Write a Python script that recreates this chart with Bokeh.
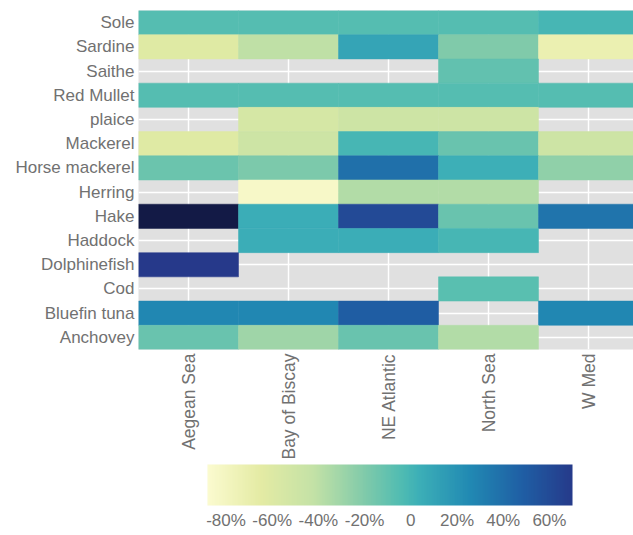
import math
import numpy as np
from bokeh.plotting import figure
from bokeh.models import (ColumnDataSource, LinearColorMapper, ColorBar, FixedTicker,
                          Range1d)
from bokeh.transform import transform
from bokeh.embed import file_html
from bokeh.resources import INLINE

# ---------------- data ----------------
regions = ["Aegean Sea", "Bay of Biscay", "NE Atlantic", "North Sea", "W Med"]
species = ["Sole", "Sardine", "Saithe", "Red Mullet", "plaice", "Mackerel",
           "Horse mackerel", "Herring", "Hake", "Haddock", "Dolphinefish", "Cod",
           "Bluefin tuna", "Anchovey"]  # top to bottom

sole = [-0.06, -0.06, -0.06, -0.06, -0.01]
sardine = [-0.61, -0.41, 0.10, -0.20, -0.72]
saithe = [None, None, None, -0.10, None]
red_mullet = [-0.06, -0.06, -0.06, -0.06, -0.06]
plaice = [None, -0.54, -0.485, -0.485, None]
mackerel = [-0.61, -0.485, -0.01, -0.12, -0.485]
horse_mackerel = [-0.13, -0.19, 0.39, 0.03, -0.25]
herring = [None, -0.84, -0.365, -0.365, None]
hake = [0.94, 0.05, 0.60, -0.12, 0.37]
haddock = [None, 0.05, 0.05, -0.01, None]
dolphinefish = [0.70, None, None, None, None]
cod = [None, None, None, -0.07, None]
bluefin_tuna = [0.27, 0.27, 0.485, None, 0.27]
anchovey = [-0.12, -0.30, -0.12, -0.365, None]

values = [sole, sardine, saithe, red_mullet, plaice, mackerel, horse_mackerel,
          herring, hake, haddock, dolphinefish, cod, bluefin_tuna, anchovey]

cb_ticks = [-0.8, -0.6, -0.4, -0.2, 0.0, 0.2, 0.4, 0.6]
cb_labels = ["-80%", "-60%", "-40%", "-20%", "0", "20%", "40%", "60%"]

val_low, val_high = -0.88, 0.94
cb_high = 0.70

# ---------------- palette (colour scale) ----------------
stops_f = [0.0, 0.125, 0.25, 0.375, 0.46, 0.5, 0.625, 0.75, 0.875, 1.0]
stops_c = ["#fbfbcf", "#e4eba4", "#c4e2a6", "#7fcaaa", "#50bcb2", "#3db0b7",
           "#2189b3", "#1f5ea4", "#263889", "#131a46"]


def hex2rgb(h):
    return [int(h[i:i + 2], 16) for i in (1, 3, 5)]


rgb = np.array([hex2rgb(c) for c in stops_c], dtype=float)
N = 256
fs = np.linspace(0, 1, N)
pal = []
for f in fs:
    r = np.interp(f, stops_f, rgb[:, 0])
    g = np.interp(f, stops_f, rgb[:, 1])
    b = np.interp(f, stops_f, rgb[:, 2])
    pal.append("#%02x%02x%02x" % (int(round(r)), int(round(g)), int(round(b))))

mapper = LinearColorMapper(palette=pal, low=val_low, high=val_high)
k = int(round((cb_high - val_low) / (val_high - val_low) * (N - 1))) + 1
cb_mapper = LinearColorMapper(palette=pal[:k], low=val_low, high=cb_high)

# ---------------- build source ----------------
xs, ys, vs = [], [], []
n = len(species)
for i, row in enumerate(values):
    for j, v in enumerate(row):
        if v is None:
            continue
        xs.append(j)
        ys.append(n - 1 - i)
        vs.append(v)
src = ColumnDataSource(dict(x=xs, y=ys, val=vs))

FONT = "'Liberation Sans', Arial, sans-serif"
TXT = "#717171"

p = figure(frame_width=495, frame_height=339,
           x_range=Range1d(-0.5, 4.45), y_range=Range1d(-0.5, n - 0.5),
           output_backend="svg", toolbar_location=None,
           min_border_left=138, min_border_right=0, min_border_top=10,
           min_border_bottom=0)

p.background_fill_color = "#e0e0e0"
p.border_fill_color = "white"
p.outline_line_color = None

p.rect(x="x", y="y", width=1, height=1, source=src,
       fill_color=transform("val", mapper), line_color=transform("val", mapper),
       line_width=0.5)

# axes
p.xaxis.ticker = FixedTicker(ticks=list(range(len(regions))))
p.xaxis.major_label_overrides = {i: r for i, r in enumerate(regions)}
p.yaxis.ticker = FixedTicker(ticks=list(range(n)))
p.yaxis.major_label_overrides = {n - 1 - i: s for i, s in enumerate(species)}
p.xaxis.major_label_orientation = math.pi / 2
for ax in (p.xaxis[0], p.yaxis[0]):
    ax.axis_line_color = None
    ax.major_tick_line_color = None
    ax.minor_tick_line_color = None
    ax.major_tick_out = 0
    ax.major_label_text_font = FONT
    ax.major_label_text_font_size = "17px"
    ax.major_label_text_color = TXT
    ax.major_label_standoff = 4
p.xaxis.major_label_text_font_size = "17.5px"

p.xgrid.grid_line_color = "white"
p.ygrid.grid_line_color = "white"
p.xgrid.grid_line_width = 1.5
p.ygrid.grid_line_width = 1.5

cb = ColorBar(color_mapper=cb_mapper, orientation="horizontal",
              width=365, height=41, location=(67, 0), padding=2,
              ticker=FixedTicker(ticks=cb_ticks),
              major_label_overrides={t: l for t, l in zip(cb_ticks, cb_labels)},
              major_tick_line_color=None, minor_tick_line_color=None,
              bar_line_color=None, border_line_color=None,
              background_fill_alpha=0,
              label_standoff=5,
              major_label_text_font=FONT,
              major_label_text_font_size="17px",
              major_label_text_color=TXT)
p.add_layout(cb, "below")

open("out.html", "w").write(file_html(p, INLINE))
